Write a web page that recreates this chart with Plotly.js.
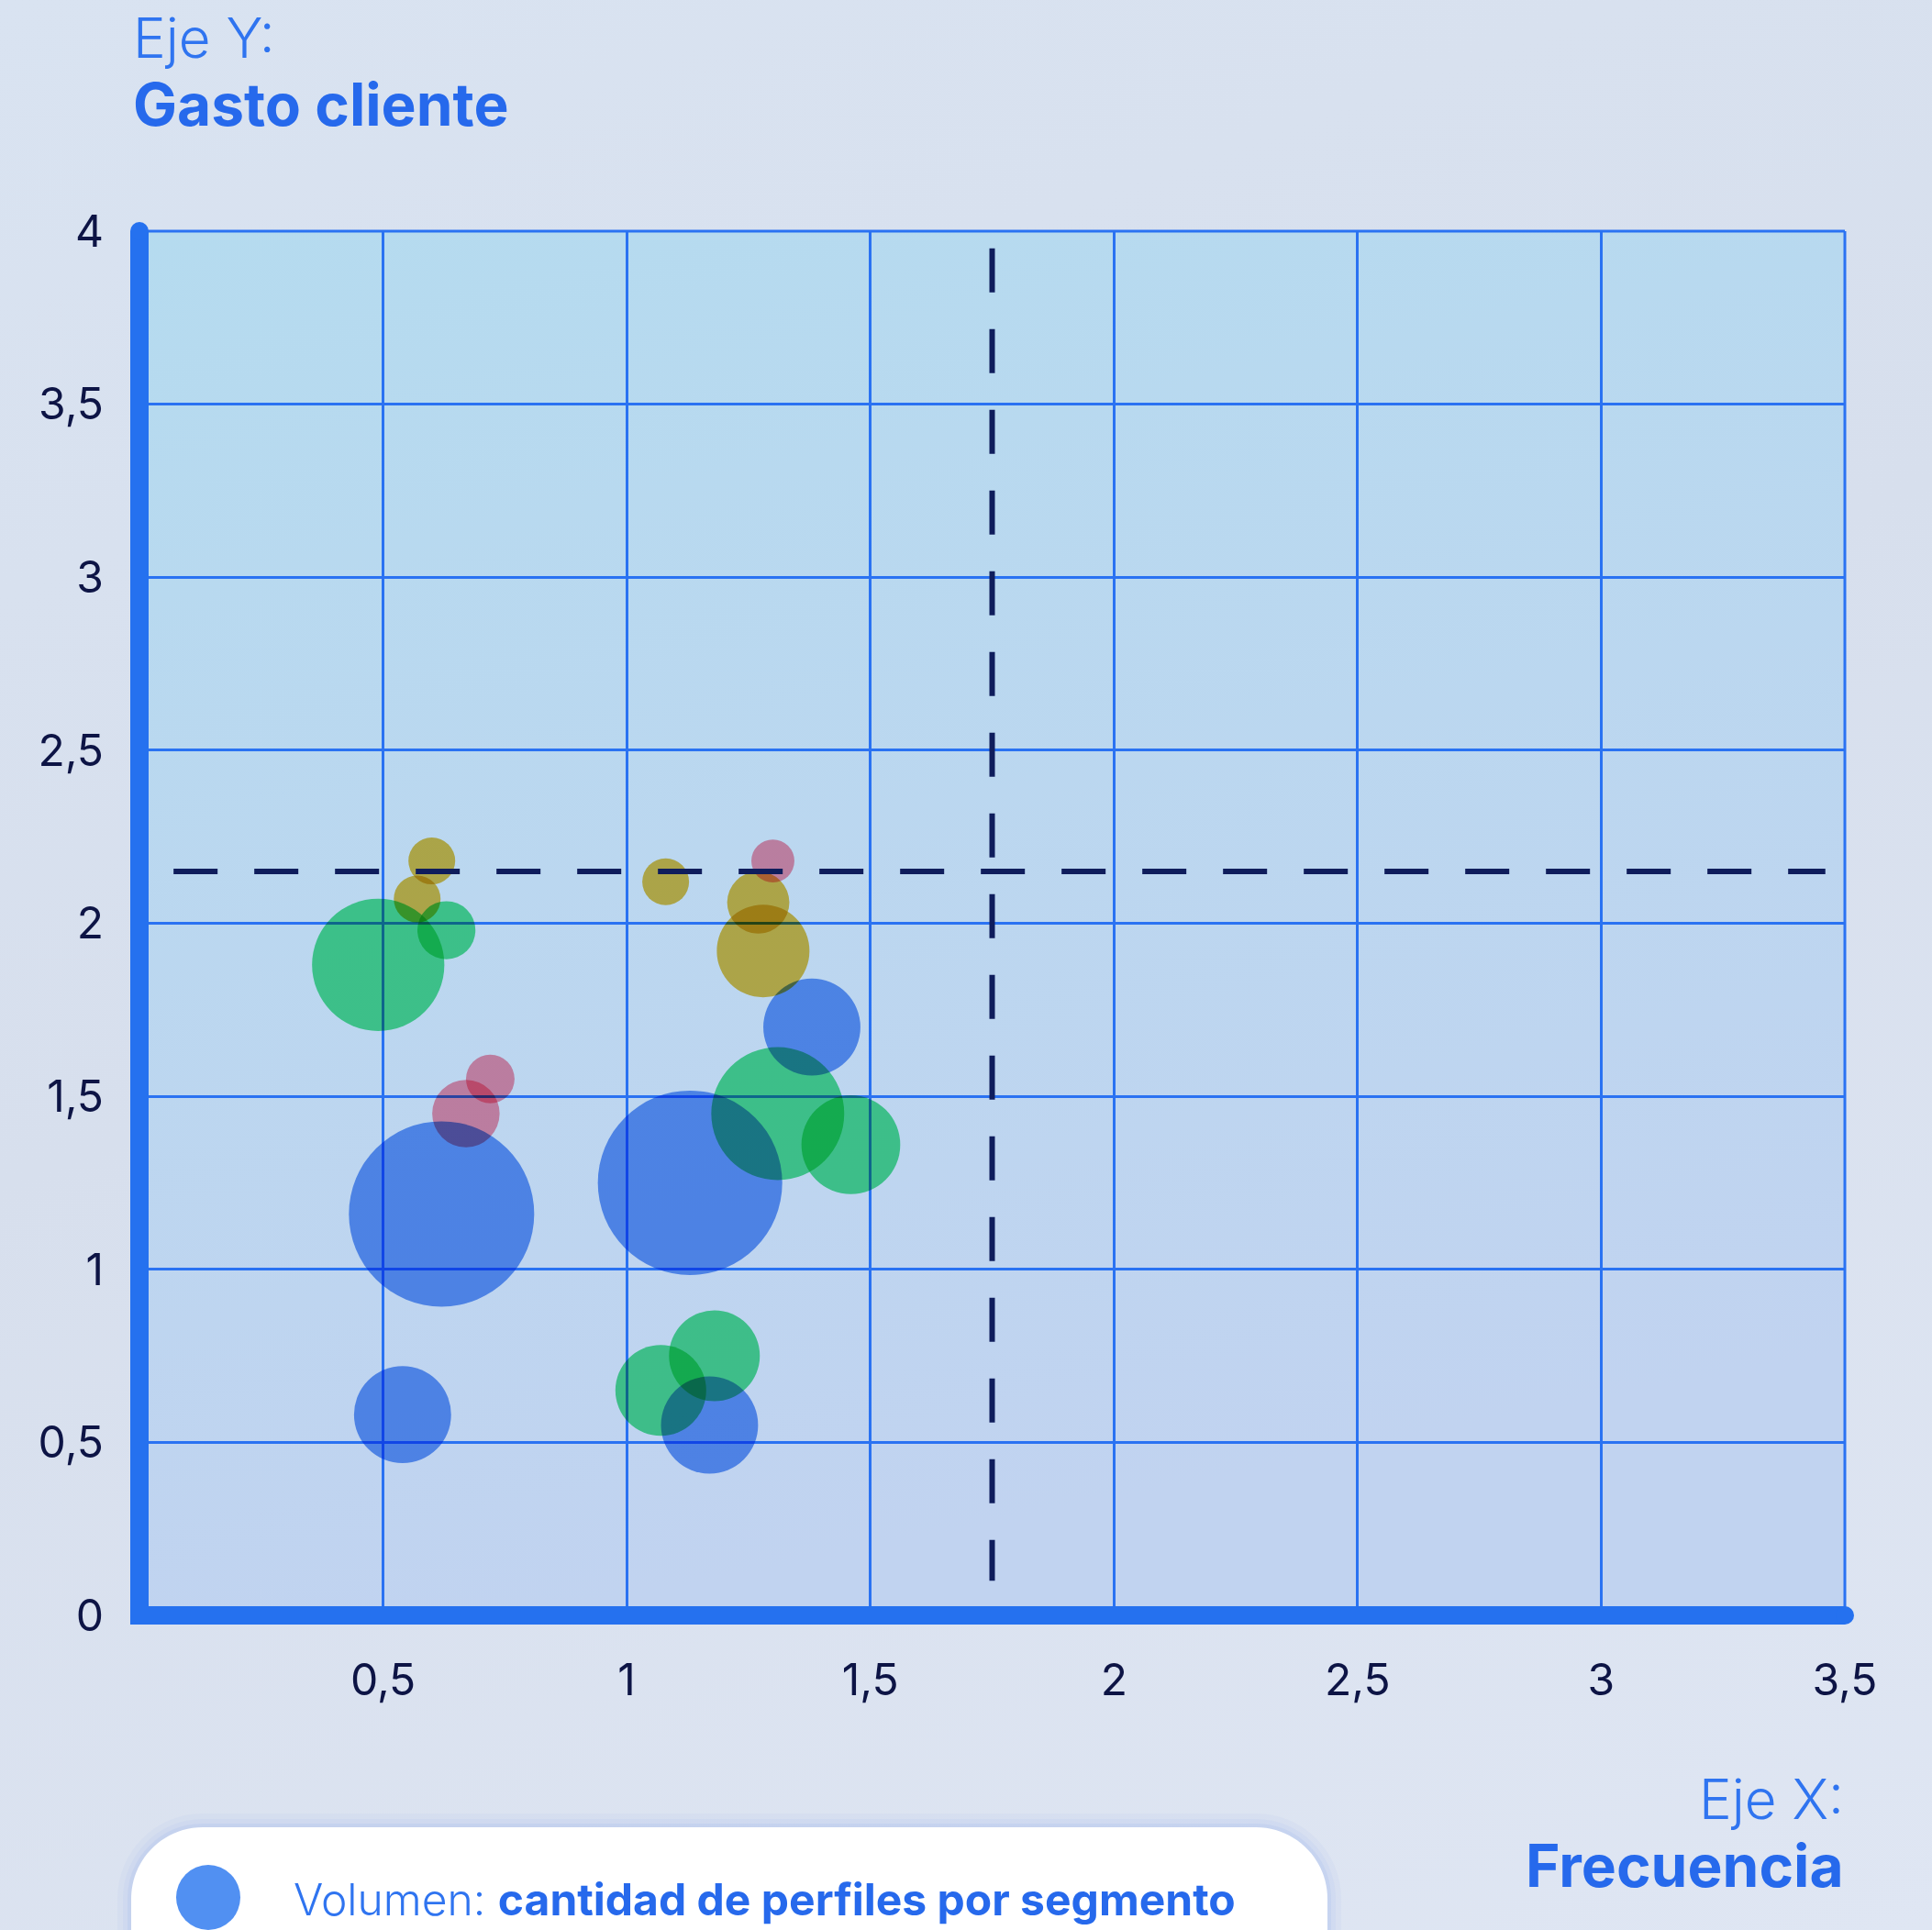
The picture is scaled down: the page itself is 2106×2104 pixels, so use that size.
<!DOCTYPE html>
<html>
<head>
<meta charset="utf-8">
<script src="https://cdn.plot.ly/plotly-3.0.1.min.js"></script>
<style>
html, body { margin:0; padding:0; }
body { width:2106px; height:2104px; overflow:hidden;
  background: linear-gradient(160deg, #d9e3f1 0%, #d7dfed 45%, #dfe6f3 100%); }
#chart { width:2106px; height:2104px; }
.js-plotly-plot .scatterlayer path.point { mix-blend-mode: multiply; }
</style>
</head>
<body>
<div id="chart"></div>
<script>
// ---- Data ----
var segBlueX  = [0.62, 1.13, 0.54, 1.17, 1.38];
var segBlueY  = [1.16, 1.25, 0.58, 0.55, 1.70];
var segBlueV  = [1020, 1010, 280, 280, 280];

var segGreenX = [0.49, 0.63, 1.31, 1.46, 1.18, 1.07];
var segGreenY = [1.88, 1.98, 1.45, 1.36, 0.75, 0.65];
var segGreenV = [520, 100, 525, 290, 245, 245];

var segOliveX = [0.60, 0.57, 1.08, 1.27, 1.28];
var segOliveY = [2.18, 2.07, 2.12, 2.06, 1.92];
var segOliveV = [65, 65, 65, 115, 255];

var segPinkX  = [1.30, 0.72, 0.67];
var segPinkY  = [2.18, 1.55, 1.45];
var segPinkV  = [55, 70, 135];

var refX = 1.75;   // umbral frecuencia
var refY = 2.15;   // umbral gasto

var xTicks = [0.5, 1, 1.5, 2, 2.5, 3, 3.5];
var yTicks = [0, 0.5, 1, 1.5, 2, 2.5, 3, 3.5, 4];

// ---- Helpers ----
var W = 2106, H = 2104, ML = 152, MR = 95, MT = 252, MB = 343;
var PW = W - ML - MR, PH = H - MT - MB;
function X(px){ return (px - ML) / PW; }
function Y(py){ return (H - MB - py) / PH; }

function bubble(xs, ys, vs, color){
  return {
    type:'scatter', mode:'markers', x:xs, y:ys, cliponaxis:false,
    hoverinfo:'skip', showlegend:false,
    marker:{ size:vs, sizemode:'area', sizeref:0.05, color:color, opacity:1, line:{width:0} }
  };
}

var traces = [
  bubble(segBlueX, segBlueY, segBlueV, '#679cf3'),
  bubble(segGreenX, segGreenY, segGreenV, '#52e492'),
  bubble(segOliveX, segOliveY, segOliveV, '#e9c34d'),
  bubble(segPinkX, segPinkY, segPinkV, '#fc95aa')
];

var bgSvg = "<svg xmlns='http://www.w3.org/2000/svg' width='100' height='100' preserveAspectRatio='none'>" +
  "<defs><linearGradient id='g' x1='0' y1='0' x2='0.25' y2='1'>" +
  "<stop offset='0' stop-color='#b5dbef'/><stop offset='1' stop-color='#c1d3f0'/></linearGradient></defs>" +
  "<rect width='100' height='100' fill='url(#g)'/></svg>";

// pill path (legend)
var pl = 143, pr = 1447, pt = 1992, pb = 2250, rr = 78, k = 0.552 * rr;
function P(px, py){ return X(px) + ',' + Y(py); }
var pillPath = 'M' + P(pl, pb) + ' L' + P(pl, pt + rr) +
  ' C' + P(pl, pt + rr - k) + ' ' + P(pl + rr - k, pt) + ' ' + P(pl + rr, pt) +
  ' L' + P(pr - rr, pt) +
  ' C' + P(pr - rr + k, pt) + ' ' + P(pr, pt + rr - k) + ' ' + P(pr, pt + rr) +
  ' L' + P(pr, pb) + ' Z';

var axisBlue = '#2571ef';
var gridBlue = '#2a72f2';
var shapes = [
  // plot frame (top / right grid edges)
  {type:'line', xref:'paper', yref:'paper', x0:0, x1:1, y0:1, y1:1, layer:'below',
   line:{color:gridBlue, width:3}},
  {type:'line', xref:'paper', yref:'paper', x0:1, x1:1, y0:0, y1:1, layer:'below',
   line:{color:gridBlue, width:3}},
  // dashed reference lines
  {type:'line', xref:'x', yref:'y', x0:refX, x1:refX, y0:3.95, y1:0.1, layer:'above',
   line:{color:'#0f1d5c', width:6, dash:'48px,40px'}},
  {type:'line', xref:'x', yref:'y', x0:0.07, x1:3.46, y0:refY, y1:refY, layer:'above',
   line:{color:'#0f1d5c', width:6, dash:'48px,40px'}},
  // thick axes
  {type:'line', xref:'paper', yref:'paper', x0:0, x1:0, y0:Y(1771), y1:1, layer:'above',
   line:{color:axisBlue, width:20}},
  {type:'line', xref:'paper', yref:'paper', x0:X(143), x1:1, y0:0, y1:0, layer:'above',
   line:{color:axisBlue, width:20}},
  {type:'circle', xref:'paper', yref:'paper', xsizemode:'pixel', ysizemode:'pixel',
   xanchor:0, yanchor:1, x0:-10, x1:10, y0:-10, y1:10, layer:'above',
   fillcolor:axisBlue, line:{width:0}},
  {type:'circle', xref:'paper', yref:'paper', xsizemode:'pixel', ysizemode:'pixel',
   xanchor:1, yanchor:0, x0:-10, x1:10, y0:-10, y1:10, layer:'above',
   fillcolor:axisBlue, line:{width:0}},
  // legend pill glow + pill
  {type:'path', xref:'paper', yref:'paper', path:pillPath, layer:'above',
   fillcolor:'rgba(0,0,0,0)', line:{color:'rgba(170,190,240,0.10)', width:30}},
  {type:'path', xref:'paper', yref:'paper', path:pillPath, layer:'above',
   fillcolor:'rgba(0,0,0,0)', line:{color:'rgba(170,190,240,0.14)', width:18}},
  {type:'path', xref:'paper', yref:'paper', path:pillPath, layer:'above',
   fillcolor:'rgba(0,0,0,0)', line:{color:'rgba(165,185,238,0.22)', width:8}},
  {type:'path', xref:'paper', yref:'paper', path:pillPath, layer:'above',
   fillcolor:'#ffffff', line:{width:0}},
  {type:'circle', xref:'paper', yref:'paper', x0:X(192), x1:X(262), y0:Y(2104), y1:Y(2033),
   layer:'above', fillcolor:'#5190f2', line:{width:0}}
];

var blueTxt = '#2669ec';
var annotations = [
  {xref:'paper', yref:'paper', x:X(143), y:Y(41), xanchor:'left', yanchor:'middle', showarrow:false,
   text:'Eje Y:', font:{family:'Inter, sans-serif', size:60, color:'#2f74f0', weight:300}},
  {xref:'paper', yref:'paper', x:X(143), y:Y(114), xanchor:'left', yanchor:'middle', showarrow:false,
   text:'<b>Gasto cliente</b>', font:{family:'Inter, sans-serif', size:64, color:blueTxt}},
  {xref:'paper', yref:'paper', x:X(2012), y:Y(1961), xanchor:'right', yanchor:'middle', showarrow:false,
   text:'Eje X:', font:{family:'Inter, sans-serif', size:60, color:'#2f74f0', weight:300}},
  {xref:'paper', yref:'paper', x:X(2012), y:Y(2033), xanchor:'right', yanchor:'middle', showarrow:false,
   text:'<b>Frecuencia</b>', font:{family:'Inter, sans-serif', size:64, color:blueTxt}},
  {xref:'paper', yref:'paper', x:X(318), y:Y(2070), xanchor:'left', yanchor:'middle', showarrow:false,
   text:'<span style="font-weight:300;color:#2f74f0">Volumen:</span> <b>cantidad de perfiles por segmento</b>',
   font:{family:'Inter, sans-serif', size:48, color:blueTxt}}
];

var layout = {
  width:W, height:H,
  margin:{l:ML, r:MR, t:MT, b:MB, pad:0},
  paper_bgcolor:'rgba(0,0,0,0)', plot_bgcolor:'rgba(0,0,0,0)',
  separators:',.',
  showlegend:false,
  font:{family:'Inter, sans-serif', color:'#0d1445'},
  xaxis:{range:[0,3.5], tickmode:'array', tickvals:xTicks, showgrid:true, gridcolor:gridBlue, gridwidth:3,
    zeroline:false, showline:false, ticks:'', ticklabelstandoff:38,
    tickfont:{family:'Inter, sans-serif', size:48, color:'#0d1445'}, fixedrange:true},
  yaxis:{range:[0,4], tickmode:'array', tickvals:yTicks, showgrid:true, gridcolor:gridBlue, gridwidth:3,
    zeroline:false, showline:false, ticks:'', ticklabelstandoff:38,
    tickfont:{family:'Inter, sans-serif', size:48, color:'#0d1445'}, fixedrange:true},
  images:[{source:'data:image/svg+xml;charset=utf-8,' + encodeURIComponent(bgSvg),
    xref:'paper', yref:'paper', x:0, y:1, sizex:1, sizey:1, sizing:'stretch',
    xanchor:'left', yanchor:'top', layer:'below'}],
  shapes:shapes,
  annotations:annotations
};

Plotly.newPlot('chart', traces, layout, {displayModeBar:false, staticPlot:true});
</script>
</body>
</html>
